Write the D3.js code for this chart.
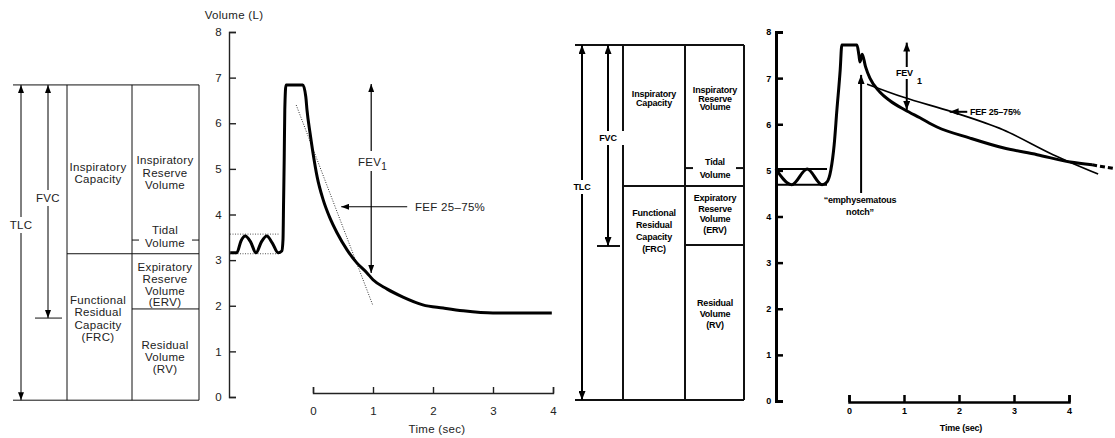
<!DOCTYPE html>
<html>
<head>
<meta charset="utf-8">
<script src="https://cdn.jsdelivr.net/npm/d3@7"></script>
<style>
  body { margin: 0; background: #fff; }
  svg { display: block; }
  .lt { font-family: "Liberation Sans", Arial, sans-serif; font-size: 11.5px; fill: #222; letter-spacing: 0.3px; }
  .rt { font-family: "Liberation Sans", Arial, sans-serif; font-size: 9px; font-weight: bold; fill: #000; letter-spacing: -0.2px; }
</style>
</head>
<body>
<div id="chart"></div>
<script>
// shared tick values
const volTicks = [0, 1, 2, 3, 4, 5, 6, 7, 8];
const timeTicks = [0, 1, 2, 3, 4];

// normal spirogram (left) — time in sec, volume in L
const normalTime = [-1.38, -1.27, -1.2, -1.13, -1.04, -0.95, -0.86, -0.77, -0.68, -0.58, -0.52, -0.5, -0.49, -0.48, -0.47, -0.45,
  -0.17, -0.12, -0.1, -0.05, 0, 0.07, 0.17, 0.28, 0.4, 0.57, 0.73, 0.9, 1.0, 1.23, 1.5, 1.83, 2.17, 2.5, 3.0, 3.57, 3.98];
const normalVol = [3.16, 3.16, 3.42, 3.53, 3.4, 3.16, 3.4, 3.53, 3.38, 3.16, 3.2, 3.45, 4.3, 5.2, 6.3, 6.84,
  6.84, 6.58, 6.29, 5.79, 5.35, 4.82, 4.32, 3.93, 3.6, 3.22, 2.94, 2.72, 2.57, 2.37, 2.19, 2.02, 1.95, 1.89, 1.84, 1.84, 1.84];
const normalFefTime = [-0.28, 1.0];
const normalFefVol = [6.4, 2.0];
const normalTidalBand = [3.57, 3.14];
const normalFev1 = [0.97, 6.88, 2.72];     // time, from vol, to vol
const normalFefArrow = [1.57, 0.47, 4.17]; // from time, to time, vol
// normal lung compartments: TLC top, FRC, RV, tidal mark, FVC bottom, floor
const normalLevels = [6.84, 3.14, 1.93, 3.44, 1.73, -0.07];

// obstructive spirogram (right)
const obstTime = [-1.33, -1.04, -0.76, -0.49, -0.4, -0.33, -0.27, -0.22, -0.16, -0.13,
  0.145, 0.18, 0.2, 0.24, 0.3, 0.38, 0.56, 0.745, 1.02, 1.29, 1.6, 2.2, 2.8, 3.42, 4.02, 4.42];
const obstVol = [5.03, 4.69, 5.03, 4.69, 4.75, 5.01, 5.55, 6.31, 7.18, 7.72,
  7.72, 7.5, 7.35, 7.52, 7.25, 7.0, 6.7, 6.51, 6.31, 6.14, 5.94, 5.7, 5.49, 5.34, 5.18, 5.12];
const obstTailTime = [4.42, 4.82];
const obstTailVol = [5.12, 5.04];
const obstFefTime = [0.33, 0.98, 1.87, 2.8, 3.71, 4.53];
const obstFefVol = [6.87, 6.59, 6.27, 5.88, 5.34, 4.92];
const obstTidalBand = [5.03, 4.69];
const obstFev1 = [1.05, 7.77, 6.31];
const obstFefArrow = [2.15, 1.83, 6.27];
const obstNotch = [0.22, 4.51, 7.07];
const obstLevels = [7.72, 4.66, 3.38, 5.05, 3.36, 0.02];

const cellLines = [
  ["Inspiratory", "Capacity"],
  ["Inspiratory", "Reserve", "Volume"],
  ["Tidal", "Volume"],
  ["Expiratory", "Reserve", "Volume", "(ERV)"],
  ["Functional", "Residual", "Capacity", "(FRC)"],
  ["Residual", "Volume", "(RV)"]
];
const cellColumn = [0, 1, 1, 1, 0, 1];
const leftCellX = [98, 165];
const leftCellTop = [167, 160, 230, 267, 300, 345];
const leftLineGap = [12, 12.5, 13, 11.8, 12.3, 11.8];
const rightCellX = [654, 715];
const rightCellTop = [94, 90, 162, 198, 213, 303];
const rightLineGap = [8.5, 8.5, 13, 10.5, 12, 11];

const W = 1115, H = 438;
const svg = d3.select("#chart").append("svg").attr("width", W).attr("height", H);

const defs = svg.append("defs");
function arrowMarker(id, len, wid) {
  defs.append("marker").attr("id", id)
    .attr("viewBox", `0 0 ${len} ${wid}`)
    .attr("refX", len).attr("refY", wid / 2)
    .attr("markerWidth", len).attr("markerHeight", wid)
    .attr("markerUnits", "userSpaceOnUse")
    .attr("orient", "auto-start-reverse")
    .append("path").attr("d", `M0,0L${len},${wid / 2}L0,${wid}Z`).attr("fill", "#000");
}
arrowMarker("aL", 8, 6);
arrowMarker("aR", 9, 7);

function compartments(g, y, lv, cols, opts) {
  const [c0, c1, c2, c3] = cols;
  const lw = opts.lw;
  const ln = (x1, y1, x2, y2) => g.append("line")
    .attr("x1", x1).attr("y1", y1).attr("x2", x2).attr("y2", y2)
    .attr("stroke", "#111").attr("stroke-width", lw);
  ln(c0, y(lv[0]), c3, y(lv[0]));
  ln(c0, y(lv[5]), c3, y(lv[5]));
  ln(c1, y(lv[0]), c1, y(lv[5]));
  ln(c2, y(lv[0]), c2, y(lv[5]));
  ln(c3, y(lv[0]), c3, y(lv[5]));
  ln(c1, y(lv[1]), c3, y(lv[1]));
  ln(c2, y(lv[2]), c3, y(lv[2]));
  ln(c2, y(lv[3]), c2 + opts.dash, y(lv[3]));
  ln(c3 - opts.dash, y(lv[3]), c3, y(lv[3]));
  ln(opts.fvcX - opts.fvcTick[0], y(lv[4]), opts.fvcX + opts.fvcTick[1], y(lv[4]));
  // TLC & FVC double arrows
  [[opts.tlcX, lv[5], "TLC", opts.tlcLabelY], [opts.fvcX, lv[4], "FVC", opts.fvcLabelY]].forEach(([x, low, txt, ly]) => {
    g.append("line").attr("x1", x).attr("x2", x).attr("y1", y(lv[0])).attr("y2", y(low))
      .attr("stroke", "#000").attr("stroke-width", lw)
      .attr("marker-start", `url(#${opts.marker})`).attr("marker-end", `url(#${opts.marker})`);
    g.append("rect").attr("x", x - 16).attr("y", ly - opts.gap).attr("width", 32).attr("height", opts.gap * 2).attr("fill", "#fff");
    g.append("text").attr("class", opts.cls).attr("x", x).attr("y", ly).attr("dy", "0.35em")
      .attr("text-anchor", "middle").text(txt);
  });
}

function cellLabels(g, xs, tops, gaps, cls) {
  cellLines.forEach((lines, i) => {
    lines.forEach((s, j) => {
      g.append("text").attr("class", cls).attr("x", xs[cellColumn[i]]).attr("y", tops[i] + j * gaps[i])
        .attr("dy", "0.35em").attr("text-anchor", "middle").text(s);
    });
  });
}

function styleAxis(a, cls, color, sw) {
  a.selectAll("path,line").attr("stroke", color).attr("stroke-width", sw);
  a.selectAll("text").attr("class", cls).attr("font-size", null).attr("font-family", null).attr("fill", color);
}

// ---------- LEFT (normal) ----------
const xL = d3.scaleLinear().domain([0, 4]).range([313, 553]);
const yL = d3.scaleLinear().domain([0, 8]).range([397, 32]);
const gl = svg.append("g");

compartments(gl, yL, normalLevels, [13, 67, 132, 199], {
  lw: 1, dash: 7, tlcX: 21, fvcX: 48, fvcTick: [13, 14], tlcLabelY: 225, fvcLabelY: 198,
  marker: "aL", cls: "lt", gap: 8
});
cellLabels(gl, leftCellX, leftCellTop, leftLineGap, "lt");

const yAxisL = gl.append("g").attr("transform", "translate(229,0)")
  .call(d3.axisLeft(yL).tickValues(volTicks).tickFormat(d3.format("d")).tickSizeInner(-7).tickSizeOuter(-7).tickPadding(7));
const xAxisL = gl.append("g").attr("transform", "translate(0,393)")
  .call(d3.axisBottom(xL).tickValues(timeTicks).tickFormat(d3.format("d")).tickSizeInner(-6).tickSizeOuter(-6).tickPadding(14));
styleAxis(yAxisL, "lt", "#222", 1.4);
styleAxis(xAxisL, "lt", "#222", 1.4);
gl.append("text").attr("class", "lt").attr("x", 234).attr("y", 15).attr("dy", "0.35em")
  .attr("text-anchor", "middle").text("Volume (L)");
gl.append("text").attr("class", "lt").attr("x", 437).attr("y", 429).attr("dy", "0.35em")
  .attr("text-anchor", "middle").text("Time (sec)");

// tidal band dotted
normalTidalBand.forEach(v => {
  gl.append("line").attr("x1", 230).attr("x2", xL(-0.55)).attr("y1", yL(v)).attr("y2", yL(v))
    .attr("stroke", "#555").attr("stroke-width", 1).attr("stroke-dasharray", "1,1.5");
});
// FEF dotted line
gl.append("line").attr("x1", xL(normalFefTime[0])).attr("y1", yL(normalFefVol[0]))
  .attr("x2", xL(normalFefTime[1])).attr("y2", yL(normalFefVol[1]))
  .attr("stroke", "#333").attr("stroke-width", 1).attr("stroke-dasharray", "1,1.5");

const lineL = d3.line().x(d => xL(d[0])).y(d => yL(d[1])).curve(d3.curveMonotoneX);
gl.append("path").attr("d", lineL(d3.zip(normalTime, normalVol)))
  .attr("fill", "none").attr("stroke", "#000").attr("stroke-width", 3).attr("stroke-linejoin", "round");

// FEV1 arrow
gl.append("line").attr("x1", xL(normalFev1[0])).attr("x2", xL(normalFev1[0]))
  .attr("y1", yL(normalFev1[1]) + 1).attr("y2", yL(normalFev1[2]))
  .attr("stroke", "#000").attr("stroke-width", 1.2)
  .attr("marker-start", "url(#aL)").attr("marker-end", "url(#aL)");
gl.append("rect").attr("x", 356).attr("y", 151).attr("width", 34).attr("height", 20).attr("fill", "#fff");
const fevL = gl.append("text").attr("class", "lt").attr("x", 358).attr("y", 162).attr("dy", "0.35em");
fevL.append("tspan").text("FEV");
fevL.append("tspan").attr("dy", "4").attr("font-size", "10px").text("1");

// FEF arrow
gl.append("line").attr("x1", xL(normalFefArrow[0])).attr("x2", xL(normalFefArrow[1]))
  .attr("y1", yL(normalFefArrow[2])).attr("y2", yL(normalFefArrow[2]))
  .attr("stroke", "#000").attr("stroke-width", 1.2).attr("marker-end", "url(#aL)");
gl.append("text").attr("class", "lt").attr("x", 415).attr("y", yL(normalFefArrow[2])).attr("dy", "0.35em")
  .text("FEF 25–75%");

// ---------- RIGHT (obstructive) ----------
const xR = d3.scaleLinear().domain([0, 4]).range([849, 1069]);
const yR = d3.scaleLinear().domain([0, 8]).range([401, 32]);
const gr = svg.append("g");

compartments(gr, yR, obstLevels, [575, 623, 685, 744], {
  lw: 2, dash: 8, tlcX: 582, fvcX: 608, fvcTick: [11, 12], tlcLabelY: 187, fvcLabelY: 138,
  marker: "aR", cls: "rt", gap: 7
});
cellLabels(gr, rightCellX, rightCellTop, rightLineGap, "rt");

const yAxisR = gr.append("g").attr("transform", "translate(776,0)")
  .call(d3.axisLeft(yR).tickValues(volTicks).tickFormat(d3.format("d")).tickSizeInner(-7).tickSizeOuter(-7).tickPadding(5));
const xAxisR = gr.append("g").attr("transform", "translate(0,402)")
  .call(d3.axisBottom(xR).tickValues(timeTicks).tickFormat(d3.format("d")).tickSizeInner(-7).tickSizeOuter(-7).tickPadding(6));
styleAxis(yAxisR, "rt", "#000", 2.5);
styleAxis(xAxisR, "rt", "#000", 2.5);
yAxisR.select("path").attr("stroke-width", 3);
gr.append("text").attr("class", "rt").attr("x", 961).attr("y", 428).attr("dy", "0.35em")
  .attr("text-anchor", "middle").text("Time (sec)");

// tidal band lines
obstTidalBand.forEach(v => {
  gr.append("line").attr("x1", 776).attr("x2", xR(-0.4)).attr("y1", yR(v)).attr("y2", yR(v))
    .attr("stroke", "#000").attr("stroke-width", 2);
});

const lineR = d3.line().x(d => xR(d[0])).y(d => yR(d[1])).curve(d3.curveMonotoneX);
// FEF 25-75% thin line
gr.append("path").attr("d", lineR(d3.zip(obstFefTime, obstFefVol)))
  .attr("fill", "none").attr("stroke", "#000").attr("stroke-width", 1.6);
gr.append("path").attr("d", lineR(d3.zip(obstTime, obstVol)))
  .attr("fill", "none").attr("stroke", "#000").attr("stroke-width", 3).attr("stroke-linejoin", "round");
gr.append("path").attr("d", d3.line().x(d => xR(d[0])).y(d => yR(d[1]))(d3.zip(obstTailTime, obstTailVol)))
  .attr("fill", "none").attr("stroke", "#000").attr("stroke-width", 3).attr("stroke-dasharray", "5,3");

// FEV1 arrow
gr.append("line").attr("x1", xR(obstFev1[0])).attr("x2", xR(obstFev1[0]))
  .attr("y1", yR(obstFev1[1])).attr("y2", yR(obstFev1[2]))
  .attr("stroke", "#000").attr("stroke-width", 2)
  .attr("marker-start", "url(#aR)").attr("marker-end", "url(#aR)");
gr.append("rect").attr("x", 895).attr("y", 67).attr("width", 18).attr("height", 12).attr("fill", "#fff");
const fevR = gr.append("text").attr("class", "rt").attr("x", 896).attr("y", 73).attr("dy", "0.35em");
fevR.append("tspan").text("FEV");
fevR.append("tspan").attr("dx", "4").attr("dy", "8").text("1");

// FEF arrow
gr.append("line").attr("x1", xR(obstFefArrow[0])).attr("x2", xR(obstFefArrow[1]))
  .attr("y1", yR(obstFefArrow[2])).attr("y2", yR(obstFefArrow[2]))
  .attr("stroke", "#000").attr("stroke-width", 2).attr("marker-end", "url(#aR)");
gr.append("text").attr("class", "rt").attr("x", 970).attr("y", yR(obstFefArrow[2])).attr("dy", "0.35em")
  .text("FEF 25–75%");

// emphysematous notch arrow
gr.append("line").attr("x1", xR(obstNotch[0])).attr("x2", xR(obstNotch[0]))
  .attr("y1", yR(obstNotch[1])).attr("y2", yR(obstNotch[2]))
  .attr("stroke", "#000").attr("stroke-width", 2).attr("marker-end", "url(#aR)");
gr.append("text").attr("class", "rt").attr("x", 860).attr("y", 200).attr("dy", "0.35em")
  .attr("text-anchor", "middle").text("\u201Cemphysematous");
gr.append("text").attr("class", "rt").attr("x", 860).attr("y", 212).attr("dy", "0.35em")
  .attr("text-anchor", "middle").text("notch\u201D");
</script>
</body>
</html>
